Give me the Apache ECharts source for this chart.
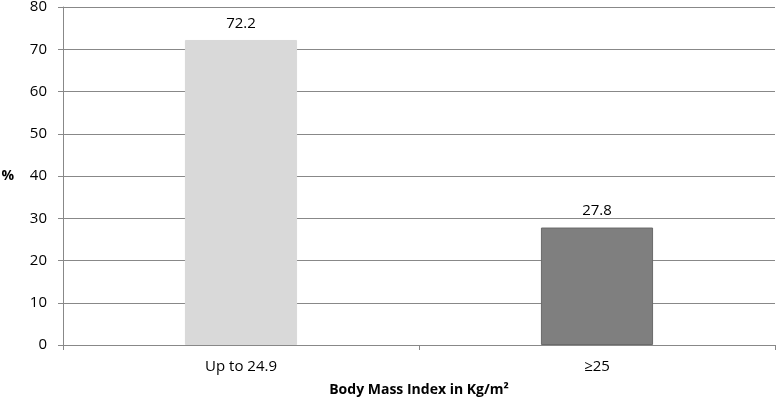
<!DOCTYPE html>
<html><head><meta charset="utf-8">
<script src="https://cdn.jsdelivr.net/npm/echarts@6/dist/echarts.min.js"></script>
<style>html,body{margin:0;padding:0;background:#fff}#c{width:782px;height:400px}</style>
</head><body><div id="c"></div>
<script>
const categories = ['Up to 24.9', '≥25'];
const values = [72.2, 27.8];
const barColors = ['#d9d9d9', '#7f7f7f'];
const yTicks = [0, 10, 20, 30, 40, 50, 60, 70, 80];
const xTitle = 'Body Mass Index in Kg/m²';
const yTitle = '%';

const font = 'Open Sans, Noto Sans, sans-serif';
const chart = echarts.init(document.getElementById('c'), null, {renderer: 'canvas'});
chart.setOption({
  animation: false,
  grid: {left: 63, right: 7, top: 7, bottom: 55, containLabel: false, outerBoundsMode: 'none'},
  xAxis: {
    type: 'category', data: categories,
    axisLine: {lineStyle: {color: '#888', width: 1}},
    axisTick: {show: true, length: 5, alignWithLabel: false, lineStyle: {color: '#888'}},
    axisLabel: {color: '#000', fontSize: 15, fontFamily: font, margin: 14},
    name: xTitle, nameLocation: 'middle', nameGap: 38,
    nameTextStyle: {color: '#000', fontSize: 14, fontWeight: 'bold', fontFamily: font}
  },
  yAxis: {
    type: 'value', min: yTicks[0], max: yTicks[yTicks.length - 1], interval: 10,
    axisLine: {show: true, lineStyle: {color: '#888', width: 1}},
    axisTick: {show: true, length: 5, lineStyle: {color: '#888'}},
    splitLine: {show: true, lineStyle: {color: '#888', width: 1}},
    axisLabel: {color: '#000', fontSize: 15, fontFamily: font, margin: 16},
    name: yTitle, nameLocation: 'middle', nameGap: 49, nameRotate: 0,
    nameTextStyle: {color: '#000', fontSize: 14, fontWeight: 'bold', fontFamily: font}
  },
  series: [{
    type: 'bar', barWidth: '31.5%',
    data: values.map((v, i) => ({value: v, itemStyle: {color: barColors[i], borderColor: i === 1 ? '#6a6a6a' : barColors[i], borderWidth: 1}})),
    label: {show: true, position: 'top', distance: 9, color: '#000', fontSize: 15, fontFamily: font}
  }]
});
</script></body></html>
